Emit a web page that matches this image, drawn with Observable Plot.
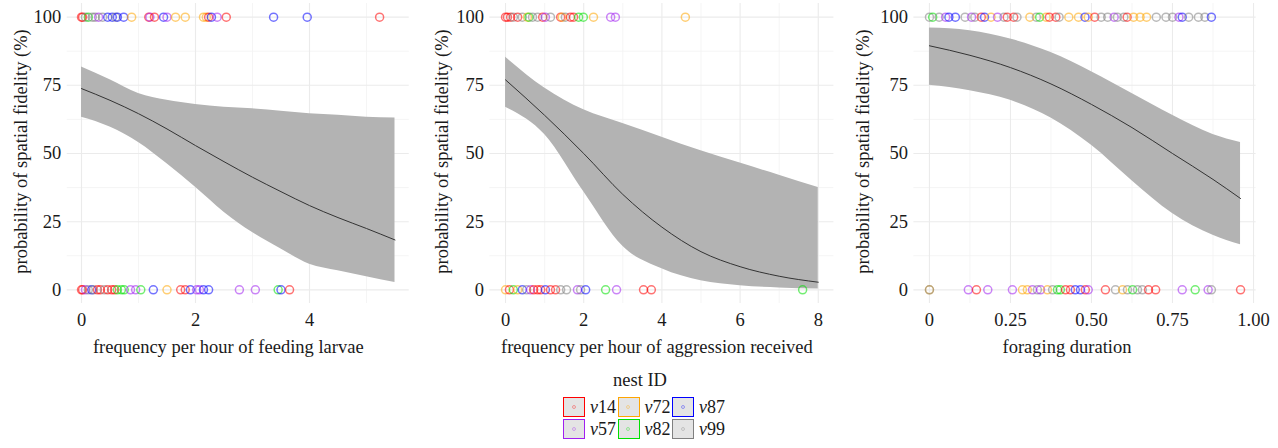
<!DOCTYPE html>
<html>
<head>
<meta charset="utf-8">
<script src="https://cdn.jsdelivr.net/npm/d3@7"></script>
<script src="https://cdn.jsdelivr.net/npm/@observablehq/plot@0.6"></script>
<style>
  body { margin: 0; background: #fff; font-family: "Liberation Serif", "Times New Roman", serif; }
  #wrap { position: relative; width: 1278px; height: 448px; overflow: hidden; background: #fff; }
  .panel { position: absolute; top: 0; }
  .panel svg { overflow: visible; }
  #legend { position: absolute; left: 0; top: 367px; width: 1278px; color: #1a1a1a; }
  #legend .title { position: absolute; left: 0; width: 1280px; text-align: center; font-size: 18.5px; line-height: 26px; }
  #legend .keys { position: absolute; left: 563px; top: 29px; display: grid; grid-template-rows: repeat(2, 22px); grid-auto-flow: column; grid-auto-columns: 54.5px; }
  #legend .item { display: flex; align-items: center; font-size: 18px; }
  #legend .key { box-sizing: border-box; width: 22px; height: 20px; border: 1.5px solid; background: #e4e4e4; position: relative; margin-right: 5px; flex: none; }
  #legend .key span { position: absolute; left: 7.5px; top: 6.5px; width: 4px; height: 4px; border-radius: 50%; border: 1px solid; opacity: 0.35; box-sizing: border-box; }
</style>
</head>
<body>
<div id="wrap"></div>
<script>
// nest colony identities and their colours
const nestIds = ["v14", "v57", "v72", "v82", "v87", "v99"];
const nestColors = ["#ff0000", "#a020f0", "#ffa500", "#00e000", "#0000ff", "#808080"];

const yTicks = [0, 25, 50, 75, 100];
const yMinor = [12.5, 37.5, 62.5, 87.5];
const yTitle = "probability of spatial fidelity (%)";

// ---- feeding larvae ----
const feedTicks = [0, 2, 4];
const feedMinor = [1, 3, 5];
const feedFitX = [0, 0.5, 1, 1.5, 2, 2.5, 3, 3.5, 4, 4.5, 5, 5.5];
const feedFit = [73.8, 69.5, 64.6, 59, 52.9, 47, 41.3, 36, 30.9, 26.5, 22.5, 18.3];
const feedLow = [63.3, 59.7, 54, 46.2, 37.6, 28.5, 21, 15, 9.4, 7, 4.8, 2.7];
const feedHigh = [81.7, 77, 72, 69.5, 68, 67, 66.4, 65.5, 64.6, 64, 63.3, 63];
const feedFaithful = [
  [0, "v14"], [0.02, "v14"], [0.07, "v99"], [0.12, "v82"], [0.19, "v99"], [0.24, "v99"], [0.3, "v57"],
  [0.37, "v99"], [0.46, "v87"], [0.54, "v87"], [0.6, "v99"], [0.63, "v87"], [0.74, "v87"], [0.88, "v72"],
  [1.18, "v14"], [1.2, "v57"], [1.28, "v14"], [1.44, "v87"], [1.5, "v57"], [1.65, "v72"], [1.82, "v72"],
  [2.14, "v72"], [2.19, "v72"], [2.23, "v14"], [2.28, "v87"], [2.38, "v57"], [2.54, "v14"],
  [3.37, "v87"], [3.96, "v87"], [5.23, "v14"]
];
const feedUnfaithful = [
  [0, "v14"], [0.02, "v14"], [0.07, "v57"], [0.12, "v99"], [0.18, "v87"], [0.21, "v99"], [0.28, "v14"],
  [0.33, "v14"], [0.4, "v99"], [0.46, "v14"], [0.53, "v14"], [0.58, "v14"], [0.63, "v82"], [0.7, "v82"],
  [0.75, "v82"], [0.86, "v57"], [0.95, "v57"], [1.04, "v82"], [1.26, "v87"], [1.5, "v72"], [1.74, "v14"],
  [1.82, "v14"], [1.91, "v87"], [2.02, "v57"], [2.07, "v57"], [2.14, "v87"], [2.23, "v87"], [2.77, "v57"],
  [3.05, "v57"], [3.45, "v82"], [3.5, "v87"], [3.65, "v14"]
];

// ---- aggression received ----
const aggrTicks = [0, 2, 4, 6, 8];
const aggrMinor = [1, 3, 5, 7];
const aggrFitX = [0, 1, 2, 3, 4, 5, 6, 7, 8];
const aggrFit = [77, 64, 50, 35, 23, 14, 8.5, 5, 2.8];
const aggrLow = [67, 57, 36, 16, 7.7, 3.3, 1.5, 0.7, 0.3];
const aggrHigh = [85.3, 74, 66, 61, 56, 51, 46.5, 42, 37.5];
const aggrFaithful = [
  [0, "v14"], [0.05, "v14"], [0.13, "v14"], [0.2, "v99"], [0.31, "v14"], [0.43, "v99"], [0.56, "v72"],
  [0.6, "v82"], [0.69, "v99"], [0.82, "v99"], [0.95, "v14"], [1.02, "v57"], [1.15, "v99"], [1.41, "v14"],
  [1.45, "v72"], [1.53, "v99"], [1.66, "v14"], [1.74, "v14"], [1.87, "v82"], [1.99, "v82"], [2.25, "v72"],
  [2.69, "v57"], [2.81, "v57"], [4.6, "v72"]
];
const aggrUnfaithful = [
  [0, "v72"], [0.1, "v14"], [0.2, "v82"], [0.31, "v72"], [0.43, "v87"], [0.54, "v99"], [0.64, "v57"],
  [0.72, "v14"], [0.82, "v14"], [0.9, "v14"], [1.02, "v87"], [1.15, "v14"], [1.28, "v14"], [1.41, "v99"],
  [1.56, "v99"], [1.84, "v57"], [1.92, "v99"], [2.05, "v87"], [2.56, "v82"], [2.84, "v57"], [3.53, "v14"],
  [3.73, "v14"], [7.6, "v82"]
];

// ---- foraging duration ----
const forTicks = [0, 0.25, 0.5, 0.75, 1];
const forMinor = [0.125, 0.375, 0.625, 0.875];
const forFitX = [0, 0.125, 0.25, 0.375, 0.5, 0.625, 0.75, 0.875, 0.96];
const forFit = [89.5, 86, 81.5, 75.5, 68, 59.5, 50, 40.5, 33.5];
const forLow = [75, 73, 69.5, 63, 53, 40, 28, 20, 16.5];
const forHigh = [96, 95, 92, 87, 80, 72, 64, 57, 54];
const forFaithful = [
  [0, "v99"], [0.01, "v82"], [0.03, "v99"], [0.05, "v57"], [0.06, "v87"], [0.08, "v87"], [0.11, "v99"],
  [0.13, "v57"], [0.14, "v99"], [0.16, "v14"], [0.17, "v87"], [0.19, "v72"], [0.21, "v57"], [0.23, "v99"],
  [0.24, "v14"], [0.26, "v14"], [0.27, "v99"], [0.31, "v72"], [0.33, "v99"], [0.34, "v82"], [0.36, "v72"],
  [0.37, "v14"], [0.39, "v14"], [0.4, "v99"], [0.43, "v72"], [0.46, "v72"], [0.48, "v87"], [0.49, "v72"],
  [0.51, "v14"], [0.53, "v99"], [0.55, "v99"], [0.57, "v57"], [0.58, "v99"], [0.6, "v99"], [0.61, "v14"],
  [0.63, "v72"], [0.65, "v72"], [0.67, "v72"], [0.7, "v99"], [0.73, "v99"], [0.75, "v99"], [0.77, "v57"],
  [0.78, "v87"], [0.8, "v99"], [0.83, "v99"], [0.85, "v99"], [0.87, "v87"]
];
const forUnfaithful = [
  [0, "v72"], [0, "v99"], [0.12, "v57"], [0.145, "v14"], [0.18, "v57"], [0.256, "v57"], [0.287, "v72"],
  [0.302, "v72"], [0.318, "v57"], [0.333, "v99"], [0.343, "v57"], [0.364, "v72"], [0.38, "v99"], [0.395, "v82"],
  [0.404, "v82"], [0.42, "v14"], [0.435, "v14"], [0.45, "v87"], [0.466, "v87"], [0.481, "v14"], [0.49, "v57"],
  [0.543, "v14"], [0.574, "v99"], [0.596, "v72"], [0.611, "v99"], [0.627, "v82"], [0.642, "v99"], [0.657, "v99"],
  [0.676, "v14"], [0.698, "v14"], [0.78, "v57"], [0.82, "v82"], [0.86, "v57"], [0.87, "v99"], [0.96, "v14"]
];

const font = '"Liberation Serif", "Times New Roman", serif';
const fs = 18.5;

function panel(cfg) {
  const band = cfg.fitX.map((x, i) => ({x, fit: cfg.fit[i], lo: cfg.low[i], hi: cfg.high[i]}));
  const pts = [
    ...cfg.faithful.map(([x, nest]) => ({x, y: 100, nest})),
    ...cfg.unfaithful.map(([x, nest]) => ({x, y: 0, nest}))
  ];
  const svg = Plot.plot({
    width: cfg.width,
    height: 370,
    marginLeft: cfg.marginLeft,
    marginRight: cfg.marginRight,
    marginTop: 3,
    marginBottom: 67,
    style: {fontFamily: font, fontSize: fs + "px", color: "#1a1a1a", background: "transparent"},
    x: {domain: cfg.xDomain},
    y: {domain: [-5, 105]},
    color: {domain: nestIds, range: nestColors},
    marks: [
      Plot.gridX(cfg.minor, {stroke: "#f3f3f3", strokeOpacity: 1, strokeWidth: 0.8}),
      Plot.gridY(yMinor, {stroke: "#f3f3f3", strokeOpacity: 1, strokeWidth: 0.8}),
      Plot.gridX(cfg.ticks, {stroke: "#ebebeb", strokeOpacity: 1, strokeWidth: 1.1}),
      Plot.gridY(yTicks, {stroke: "#ebebeb", strokeOpacity: 1, strokeWidth: 1.1}),
      Plot.areaY(band, {x: "x", y1: "lo", y2: "hi", fill: "#b3b3b3", curve: "monotone-x"}),
      Plot.lineY(band, {x: "x", y: "fit", stroke: "#333", strokeWidth: 1, curve: "monotone-x"}),
      Plot.dot(pts, {x: "x", y: "y", stroke: "nest", r: 4, strokeWidth: 1.5, strokeOpacity: 0.55, fill: "none"}),
      Plot.axisX(cfg.ticks, {tickSize: 0, tickPadding: 9, tickFormat: cfg.tickFormat, label: null, fontSize: fs}),
      Plot.axisY(yTicks, {tickSize: 0, tickPadding: 6, label: null, fontSize: fs}),
      Plot.text([cfg.xTitle], {frameAnchor: "bottom", dy: 49, dx: cfg.xTitleDx, fontSize: fs, fill: "#1a1a1a"}),
      Plot.text([yTitle], {frameAnchor: "left", textAnchor: "middle", rotate: -90, dx: cfg.yTitleDx, dy: -2, fontSize: fs, fill: "#1a1a1a"})
    ]
  });
  const div = document.createElement("div");
  div.className = "panel";
  div.style.left = cfg.left + "px";
  div.appendChild(svg);
  document.getElementById("wrap").appendChild(div);
}

panel({
  left: 0, width: 420, marginLeft: 66.75, marginRight: 11.25, xDomain: [-0.25, 5.75],
  ticks: feedTicks, minor: feedMinor, tickFormat: d3.format("d"),
  fitX: feedFitX, fit: feedFit, low: feedLow, high: feedHigh,
  faithful: feedFaithful, unfaithful: feedUnfaithful,
  xTitle: "frequency per hour of feeding larvae", xTitleDx: -10, yTitleDx: -46
});

panel({
  left: 420, width: 420, marginLeft: 69.4, marginRight: 6.6, xDomain: [-0.4, 8.4],
  ticks: aggrTicks, minor: aggrMinor, tickFormat: d3.format("d"),
  fitX: aggrFitX, fit: aggrFit, low: aggrLow, high: aggrHigh,
  faithful: aggrFaithful, unfaithful: aggrUnfaithful,
  xTitle: "frequency per hour of aggression received", xTitleDx: -5, yTitleDx: -48
});

panel({
  left: 840, width: 438, marginLeft: 73.4, marginRight: 22.4, xDomain: [-0.048, 1.008],
  ticks: forTicks, minor: forMinor, tickFormat: d => d === 0 ? "0" : d3.format(".2f")(d),
  fitX: forFitX, fit: forFit, low: forLow, high: forHigh,
  faithful: forFaithful, unfaithful: forUnfaithful,
  xTitle: "foraging duration", xTitleDx: -18, yTitleDx: -51
});

// legend for nest identity, two rows filled column by column
const legend = document.createElement("div");
legend.id = "legend";
legend.innerHTML = `<div class="title">nest ID</div>`;
const keys = document.createElement("div");
keys.className = "keys";
const order = ["v14", "v57", "v72", "v82", "v87", "v99"];
order.forEach(id => {
  const c = nestColors[nestIds.indexOf(id)];
  const item = document.createElement("div");
  item.className = "item";
  item.innerHTML = `<div class="key" style="border-color:${c}"><span style="border-color:${c}"></span></div><span><i>${id[0]}</i>${id.slice(1)}</span>`;
  keys.appendChild(item);
});
legend.appendChild(keys);
document.getElementById("wrap").appendChild(legend);
</script>
</body>
</html>
